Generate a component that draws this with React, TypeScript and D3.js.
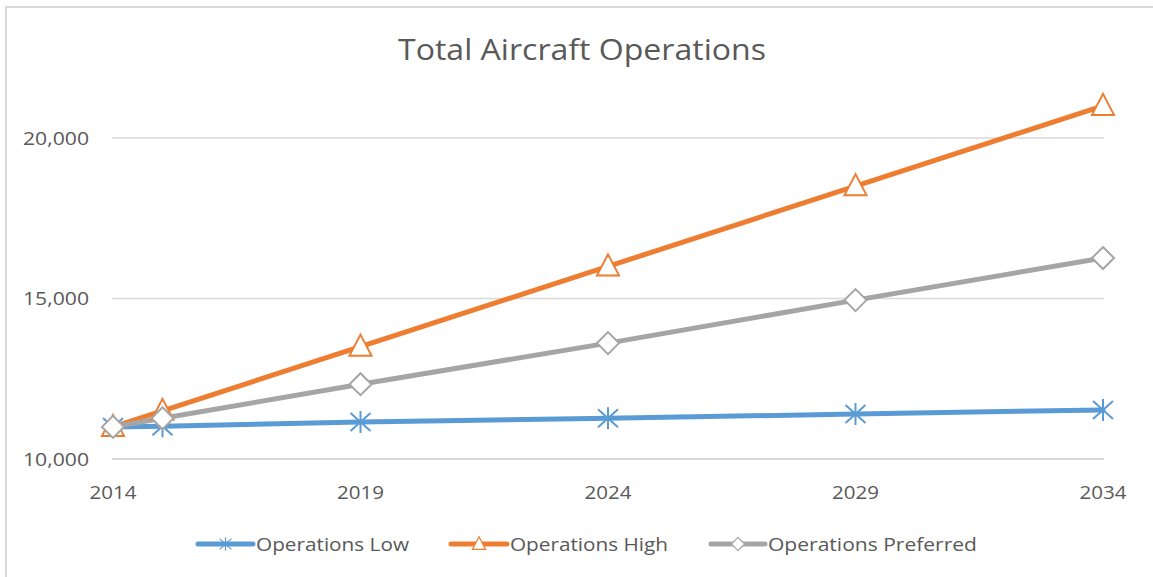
import React from "react";
import * as d3 from "d3";

const years = [2014, 2015, 2019, 2024, 2029, 2034];
const opsLow = [11000, 11020, 11150, 11270, 11400, 11530];
const opsHigh = [11000, 11500, 13500, 16000, 18500, 21000];
const opsPreferred = [11000, 11270, 12330, 13610, 14950, 16260];
const xTicks = [2014, 2019, 2024, 2029, 2034];
const yTicks = [10000, 15000, 20000];
const seriesNames = ["Operations Low", "Operations High", "Operations Preferred"];

const W = 1153;
const H = 577;
const FONT = "'Open Sans', sans-serif";
const TXT = "#595959";

type Series = { name: string; values: number[]; color: string; marker: "star" | "triangle" | "diamond" };

const series: Series[] = [
  { name: seriesNames[0], values: opsLow, color: "#5b9bd5", marker: "star" },
  { name: seriesNames[1], values: opsHigh, color: "#ed7d31", marker: "triangle" },
  { name: seriesNames[2], values: opsPreferred, color: "#a5a5a5", marker: "diamond" },
];

function Marker({ kind, x, y, color }: { kind: string; x: number; y: number; color: string }) {
  if (kind === "star") {
    const r = 11;
    const dx = 10;
    const dy = 9;
    return (
      <g stroke={color} strokeWidth={2} fill="none">
        <line x1={x} y1={y - r} x2={x} y2={y + r} />
        <line x1={x - dx} y1={y - dy} x2={x + dx} y2={y + dy} />
        <line x1={x - dx} y1={y + dy} x2={x + dx} y2={y - dy} />
      </g>
    );
  }
  if (kind === "triangle") {
    const pts = `${x},${y - 12} ${x + 11},${y + 9} ${x - 11},${y + 9}`;
    return <polygon points={pts} fill="#fff" stroke={color} strokeWidth={2} />;
  }
  const s = 11;
  const pts = `${x},${y - s} ${x + s},${y} ${x},${y + s} ${x - s},${y}`;
  return <polygon points={pts} fill="#fff" stroke={color} strokeWidth={2} />;
}

export default function App() {
  const x = d3.scaleLinear().domain([2014, 2034]).range([113, 1103]);
  const y = d3.scaleLinear().domain([10000, 20000]).range([459, 138]);
  const line = d3
    .line<[number, number]>()
    .x((d) => x(d[0]))
    .y((d) => y(d[1]));
  const fmt = d3.format(",");

  const legendItems = [
    { lx: 198, tx: 256 },
    { lx: 451, tx: 510 },
    { lx: 711, tx: 768 },
  ];

  return (
    <div style={{ position: "absolute", left: 0, top: 0 }}>
      <svg width={W} height={H} style={{ display: "block", background: "#fff" }}>
        <rect x={6} y={7} width={W + 10} height={H + 10} fill="#fff" stroke="#d9d9d9" strokeWidth={2} />
        <text x={582} y={60} textAnchor="middle" fontFamily={FONT} fontSize={30} fill={TXT} textLength={368} lengthAdjust="spacingAndGlyphs">
          Total Aircraft Operations
        </text>
        {yTicks.map((t) => (
          <g key={t}>
            <line x1={112} x2={1104} y1={y(t)} y2={y(t)} stroke="#d9d9d9" strokeWidth={t === 10000 ? 2 : 1.5} />
            <text x={89} y={y(t) + 6.5} textAnchor="end" fontFamily={FONT} fontSize={18.5} fill={TXT} textLength={66} lengthAdjust="spacingAndGlyphs">
              {fmt(t)}
            </text>
          </g>
        ))}
        {xTicks.map((t) => (
          <text key={t} x={x(t)} y={499} textAnchor="middle" fontFamily={FONT} fontSize={18.5} fill={TXT} textLength={47} lengthAdjust="spacingAndGlyphs">
            {t}
          </text>
        ))}
        {series.map((s) => (
          <path
            key={s.name}
            d={line(years.map((yr, i) => [yr, s.values[i]] as [number, number])) || ""}
            fill="none"
            stroke={s.color}
            strokeWidth={5}
            strokeLinecap="round"
            strokeLinejoin="round"
          />
        ))}
        {series.map((s) => (
          <g key={s.name + "m"}>
            {years.map((yr, i) => (
              <Marker key={yr} kind={s.marker} x={x(yr)} y={y(s.values[i])} color={s.color} />
            ))}
          </g>
        ))}
        {series.map((s, i) => {
          const it = legendItems[i];
          const cy = 544;
          const widths = [153, 158, 209];
          return (
            <g key={s.name + "l"}>
              <line x1={it.lx} x2={it.tx - 3} y1={cy} y2={cy} stroke={s.color} strokeWidth={5} strokeLinecap="round" />
              <g transform={`translate(${(it.lx + it.tx - 3) / 2},${cy}) scale(0.6)`}>
                <Marker kind={s.marker} x={0} y={0} color={s.color} />
              </g>
              <text x={it.tx} y={cy + 7} fontFamily={FONT} fontSize={19} fill={TXT} textLength={widths[i]} lengthAdjust="spacingAndGlyphs">
                {s.name}
              </text>
            </g>
          );
        })}
      </svg>
    </div>
  );
}
